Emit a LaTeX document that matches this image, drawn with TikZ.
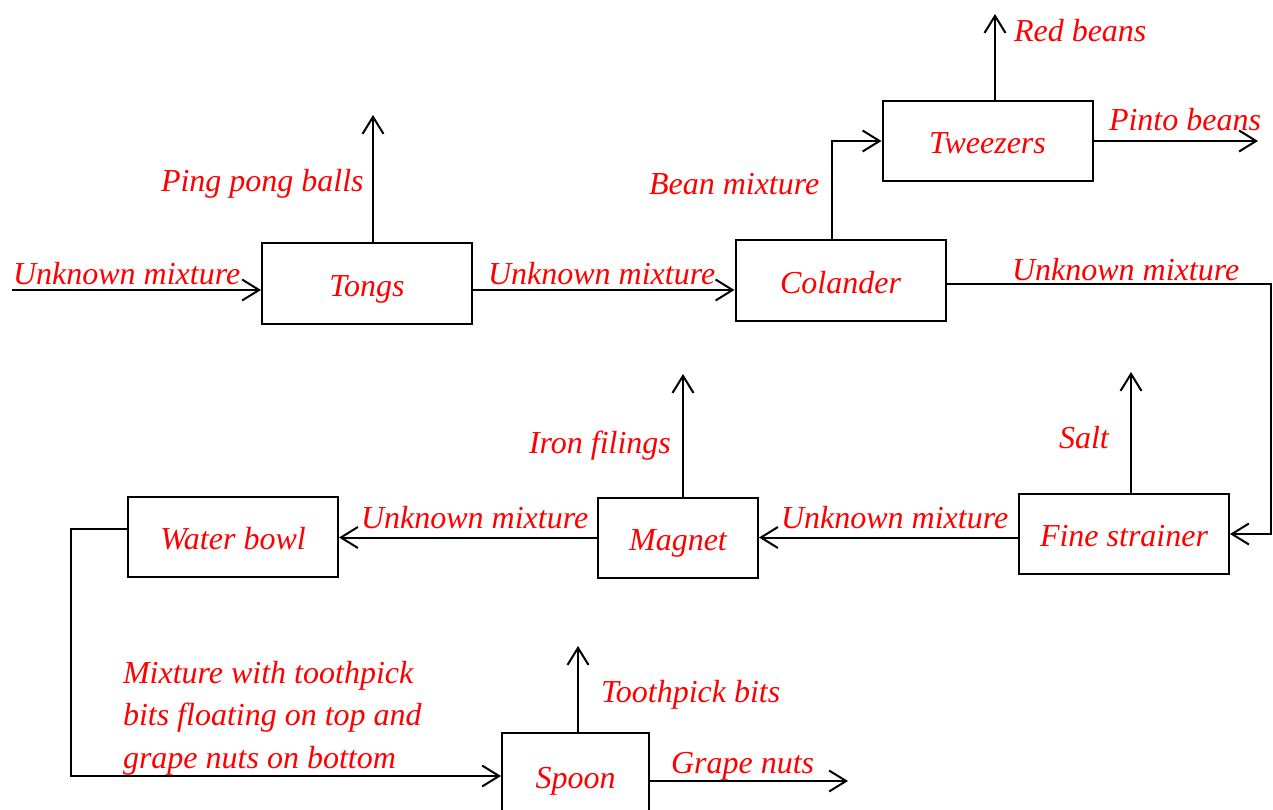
\documentclass[tikz,border=0pt]{standalone}
\usepackage{fontspec}
\setmainfont{Liberation Serif}
\usetikzlibrary{arrows.meta}
\begin{document}
\begin{tikzpicture}[x=1pt,y=-1pt,
  line width=2pt,
  >={Straight Barb[length=17pt,width=21pt,line width=2pt]},
  proc/.style={draw,line width=2pt,inner sep=0pt,minimum width=210pt,minimum height=80pt,
    text height=27pt,text depth=2pt,
    text=red,font=\fontsize{32}{38}\selectfont\itshape},
  lbl/.style={text=red,font=\fontsize{32}{38}\selectfont\itshape,inner sep=0pt,anchor=base west}]
\clip (0,0) rectangle (1273,810);
\fill[white] (0,0) rectangle (1273,810);
% boxes
\node[proc] (tongs) at (367,283.5) {Tongs};
\node[proc] (col) at (840.5,280.5) {Colander};
\node[proc] (twz) at (987.5,141) {Tweezers};
\node[proc] (fs) at (1124,534) {Fine strainer};
\node[proc,minimum width=160pt] (mag) at (678,537.5) {Magnet};
\node[proc] (wb) at (233,537) {Water bowl};
\node[proc,minimum width=147pt,minimum height=86pt] (spoon) at (575.5,776) {Spoon};
% free ends
\coordinate (in) at (12,290);
\coordinate (ppb) at (373,115);
\coordinate (rb) at (995,14);
\coordinate (pb) at (1258,141);
\coordinate (cr) at (1271,284);
\coordinate (salt) at (1131,372);
\coordinate (iron) at (683,374);
\coordinate (wl) at (71,529);
\coordinate (tp) at (578,646);
\coordinate (gn) at (848,781);
% connectors
\draw[->] (in) -- (in -| tongs.west);
\draw[->] (tongs.north -| ppb) -- (ppb);
\draw[->] (tongs.east |- in) -- (col.west |- in);
\draw[->] ([xshift=-8.5pt]col.north) |- (twz.west);
\draw[->] (twz.north -| rb) -- (rb);
\draw[->] (twz.east) -- (pb);
\draw[->] (col.east |- cr) -- (cr) |- (fs.east);
\draw[->] (fs.north -| salt) -- (salt);
\draw[->] (fs.west |- mag.east) -- (mag.east);
\draw[->] (mag.north -| iron) -- (iron);
\draw[->] (mag.west) -- (wb.east |- mag.west);
\draw[->] (wb.west |- wl) -- (wl) |- (spoon.west);
\draw[->] (spoon.north -| tp) -- (tp);
\draw[->] (spoon.east |- gn) -- (gn);
% labels
\node[lbl] (l1) at (12,284) {Unknown mixture};
\node[lbl] (l2) at (160,192) {Ping pong balls};
\node[lbl] (l3) at (487,284) {Unknown mixture};
\node[lbl] (l4) at (648,195) {Bean mixture};
\node[lbl] (l5) at (1013,42) {Red beans};
\node[lbl] (l6) at (1108,131) {Pinto beans};
\node[lbl] (l7) at (1011,280) {Unknown mixture};
\node[lbl] (l8) at (1058,448) {Salt};
\node[lbl] (l9) at (780,528) {Unknown mixture};
\node[lbl] (l10) at (528,453) {Iron filings};
\node[lbl] (l11) at (360,528) {Unknown mixture};
\node[lbl,align=left,font=\fontsize{32}{42.5}\selectfont\itshape] (l12) at (122,768) {Mixture with toothpick\\bits floating on top and\\grape nuts on bottom};
\node[lbl] (l13) at (600,702) {Toothpick bits};
\node[lbl] (l14) at (670,773) {Grape nuts};
\end{tikzpicture}
\end{document}
